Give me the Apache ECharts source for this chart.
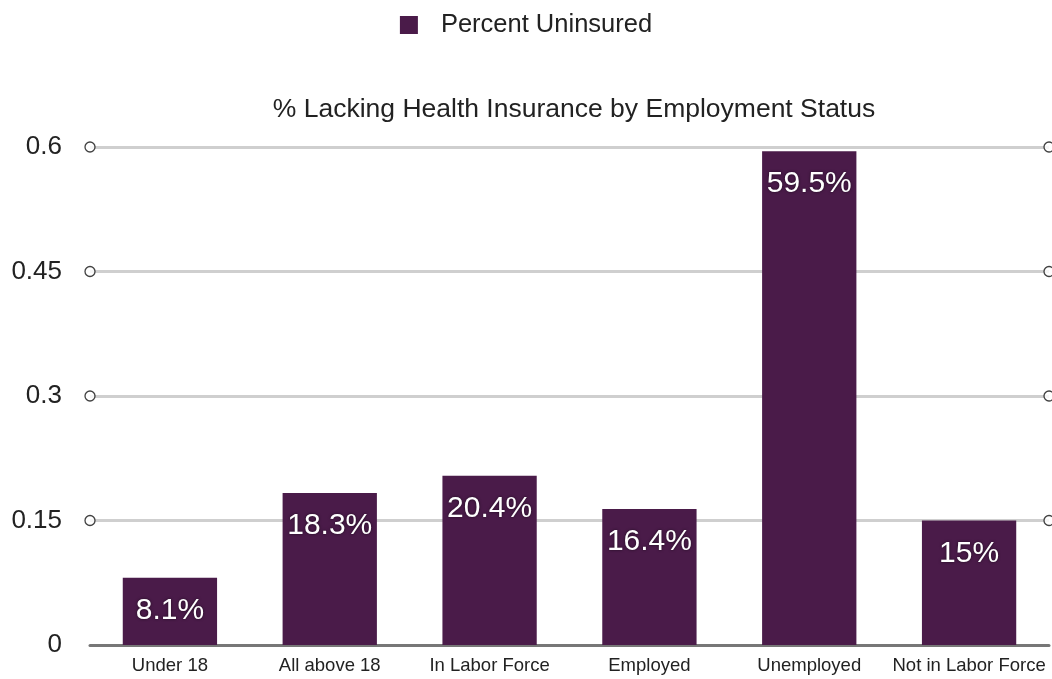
<!DOCTYPE html>
<html><head><meta charset="utf-8">
<script src="https://cdn.jsdelivr.net/npm/echarts@6/dist/echarts.min.js"></script>
<style>html,body{margin:0;padding:0;background:#fff}#c{width:1052px;height:679px}</style>
</head><body><div id="c"></div>
<script>
var categories = ["Under 18", "All above 18", "In Labor Force", "Employed", "Unemployed", "Not in Labor Force"];
var values = [0.081, 0.183, 0.204, 0.164, 0.595, 0.15];
var valueLabels = ["8.1%", "18.3%", "20.4%", "16.4%", "59.5%", "15%"];
var yTicks = [0, 0.15, 0.3, 0.45, 0.6];
var seriesName = "Percent Uninsured";
var titleText = "% Lacking Health Insurance by Employment Status";

var markerData = [];
yTicks.forEach(function (t) { if (t > 0) { markerData.push([0, t]); markerData.push([1, t]); } });

var chart = echarts.init(document.getElementById('c'));
var font = "'Liberation Sans', Arial, sans-serif";
chart.setOption({
  animation: false,
  textStyle: { fontFamily: font },
  title: { text: titleText, left: 569, textAlign: 'center', top: 91,
    textStyle: { fontSize: 26.5, fontWeight: 'normal', color: '#222', fontFamily: font } },
  legend: { data: [seriesName], top: 7, left: 'center', itemWidth: 18, itemHeight: 18, itemGap: 10,
    icon: 'rect', textStyle: { fontSize: 25.5, color: '#222', fontFamily: font, padding: [0, 0, 0, 18] } },
  grid: { left: 90, right: 3, top: 147, bottom: 34, containLabel: false },
  xAxis: [{
    type: 'category', data: categories,
    axisLine: { lineStyle: { color: '#777', width: 3 } },
    axisTick: { show: false },
    axisLabel: { fontSize: 18.5, color: '#222', margin: 11, fontFamily: font, interval: 0 }
  }, {
    type: 'value', min: 0, max: 1, show: false
  }],
  yAxis: {
    type: 'value', min: 0, max: 0.6, interval: 0.15,
    axisLine: { show: false }, axisTick: { show: false },
    axisLabel: { fontSize: 26, color: '#222', margin: 28, fontFamily: font,
      formatter: function (v) { return String(+v.toFixed(2)); } },
    splitLine: { lineStyle: { color: '#cfcfcf', width: 3 } }
  },
  series: [{
    name: seriesName, type: 'bar', data: values, barWidth: '59%',
    itemStyle: { color: '#4a1b49' },
    label: { show: true, position: 'insideTop', distance: 18,
      formatter: function (p) { return valueLabels[p.dataIndex]; },
      fontSize: 30, color: '#fff', fontFamily: font,
      textShadowColor: 'rgba(0,0,0,0.6)', textShadowBlur: 3 }
  }, {
    type: 'scatter', xAxisIndex: 1, data: markerData, symbol: 'circle', symbolSize: 10,
    clip: false, silent: true, z: 5,
    itemStyle: { color: '#fff', borderColor: '#111', borderWidth: 1.3 }
  }]
});
</script></body></html>
